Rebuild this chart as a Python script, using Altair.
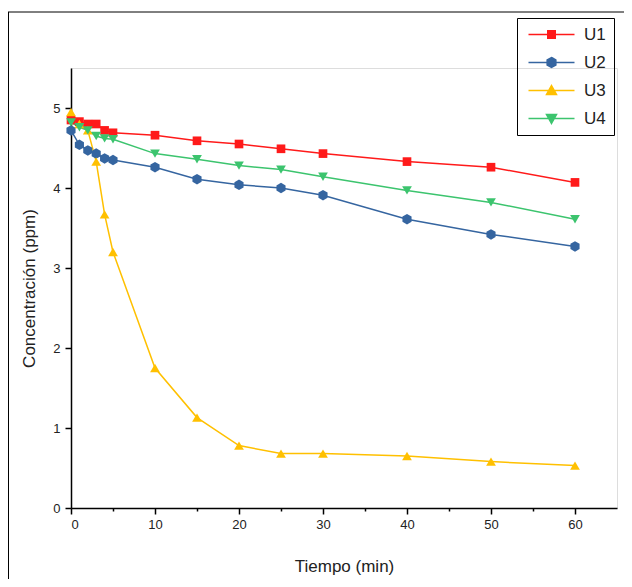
import altair as alt
import pandas as pd

tiempo = [0, 1, 2, 3, 4, 5, 10, 15, 20, 25, 30, 40, 50, 60]
u1 = [4.85, 4.83, 4.80, 4.80, 4.72, 4.69, 4.66, 4.59, 4.55, 4.49, 4.43, 4.33, 4.26, 4.07]
u2 = [4.72, 4.54, 4.47, 4.43, 4.37, 4.35, 4.26, 4.11, 4.04, 4.00, 3.91, 3.61, 3.42, 3.27]
u3 = [4.95, 4.80, 4.72, 4.33, 3.67, 3.20, 1.75, 1.13, 0.78, 0.68, 0.68, 0.65, 0.58, 0.53]
u4 = [4.82, 4.76, 4.72, 4.65, 4.62, 4.61, 4.43, 4.36, 4.28, 4.23, 4.14, 3.97, 3.82, 3.61]

series = ["U1", "U2", "U3", "U4"]
colors = ["#ff1a1a", "#3565a0", "#ffc000", "#3cc46e"]

hexagon = "M0,-1L0.87,-0.5L0.87,0.5L0,1L-0.87,0.5L-0.87,-0.5Z"
marker_shapes = ["square", hexagon, "triangle-up", "triangle-down"]
marker_sizes = [75, 110, 95, 95]

leg_line = "M-4.6,0H4.6"
legend_paths = [
    leg_line + "M-0.75,-0.75H0.75V0.75H-0.75Z",
    leg_line + hexagon,
    leg_line + "M0,-1L1,0.8H-1Z",
    leg_line + "M0,1L1,-0.8H-1Z",
]

rows = []
for s, vals in zip(series, [u1, u2, u3, u4]):
    for t, v in zip(tiempo, vals):
        rows.append({"tiempo": t, "conc": v, "serie": s})
df = pd.DataFrame(rows)

FONT = "Liberation Sans"

xscale = alt.Scale(domain=[0, 65], nice=False)
yscale = alt.Scale(domain=[0, 5.5], nice=False)

xaxis = alt.Axis(
    values=list(range(0, 61, 5)),
    labelExpr="datum.value % 10 == 0 ? format(datum.value, 'd') : ''",
    tickSize={"condition": {"test": "datum.value % 10 !== 0", "value": 3}, "value": 6},
    title="Tiempo (min)", grid=False, domainColor="black", tickColor="black",
    domainWidth=1.5, tickWidth=1.5, labelColor="#222", labelFontSize=13,
    labelFont=FONT, titleFont=FONT, titleFontSize=17, titleFontWeight="normal",
    titleColor="#222", titlePadding=27, labelPadding=4,
)
yaxis = alt.Axis(
    values=[i * 0.5 for i in range(12)],
    labelExpr="datum.value % 1 == 0 ? format(datum.value, 'd') : ''",
    tickSize={"condition": {"test": "datum.value % 1 !== 0", "value": 3}, "value": 6},
    title="Concentración (ppm)", grid=False, domainColor="black", tickColor="black",
    domainWidth=1.5, tickWidth=1.5, labelColor="#222", labelFontSize=13,
    labelFont=FONT, titleFont=FONT, titleFontSize=17, titleFontWeight="normal",
    titleColor="#222", titlePadding=14, labelPadding=5,
)

base = alt.Chart(df)
layers = []
for i, s in enumerate(series):
    layers.append(
        base.transform_filter(alt.datum.serie == s)
        .mark_line(color=colors[i], strokeWidth=1.5)
        .encode(x=alt.X("tiempo:Q", scale=xscale, axis=xaxis),
                y=alt.Y("conc:Q", scale=yscale, axis=yaxis))
    )
for i, s in enumerate(series):
    layers.append(
        base.transform_filter(alt.datum.serie == s)
        .mark_point(color=colors[i], filled=True, opacity=1,
                    shape=marker_shapes[i], size=marker_sizes[i])
        .encode(x="tiempo:Q", y="conc:Q")
    )

leg = alt.Legend(
    title=None, orient="none", legendX=446, legendY=-50,
    strokeColor="black", padding=8, symbolOffset=18,
    labelOffset=24, rowPadding=10, labelFontSize=17,
    labelFont=FONT, labelColor="#222", symbolSize=100,
    symbolOpacity=1, symbolStrokeWidth=1.5,
)
legend_layer = (
    base.transform_filter(alt.datum.tiempo == 0)
    .mark_point(opacity=0, size=100)
    .encode(
        x="tiempo:Q", y="conc:Q",
        fill=alt.Fill("serie:N", scale=alt.Scale(domain=series, range=colors), legend=leg),
        stroke=alt.Stroke("serie:N", scale=alt.Scale(domain=series, range=colors), legend=leg),
        shape=alt.Shape("serie:N", scale=alt.Scale(domain=series, range=legend_paths), legend=leg),
    )
)
layers.append(legend_layer)

frame_df = pd.DataFrame({"a": [0]})
frame_left = alt.Chart(frame_df).mark_rule(color="black", strokeWidth=1).encode(
    x=alt.value(-62.5), y=alt.value(-56), y2=alt.value(519))
frame_top = alt.Chart(frame_df).mark_rule(color="black", strokeWidth=1).encode(
    x=alt.value(-63), x2=alt.value(560), y=alt.value(-56))
layers += [frame_left, frame_top]

chart = alt.layer(*layers).properties(
    width=546, height=440,
    autosize=alt.AutoSizeParams(type="none"),
    padding={"left": 63, "top": 60, "right": 7, "bottom": 71},
).configure_view(stroke=None).configure(background="white")

chart.save("out.html", embed_options={"renderer": "svg", "actions": False})
